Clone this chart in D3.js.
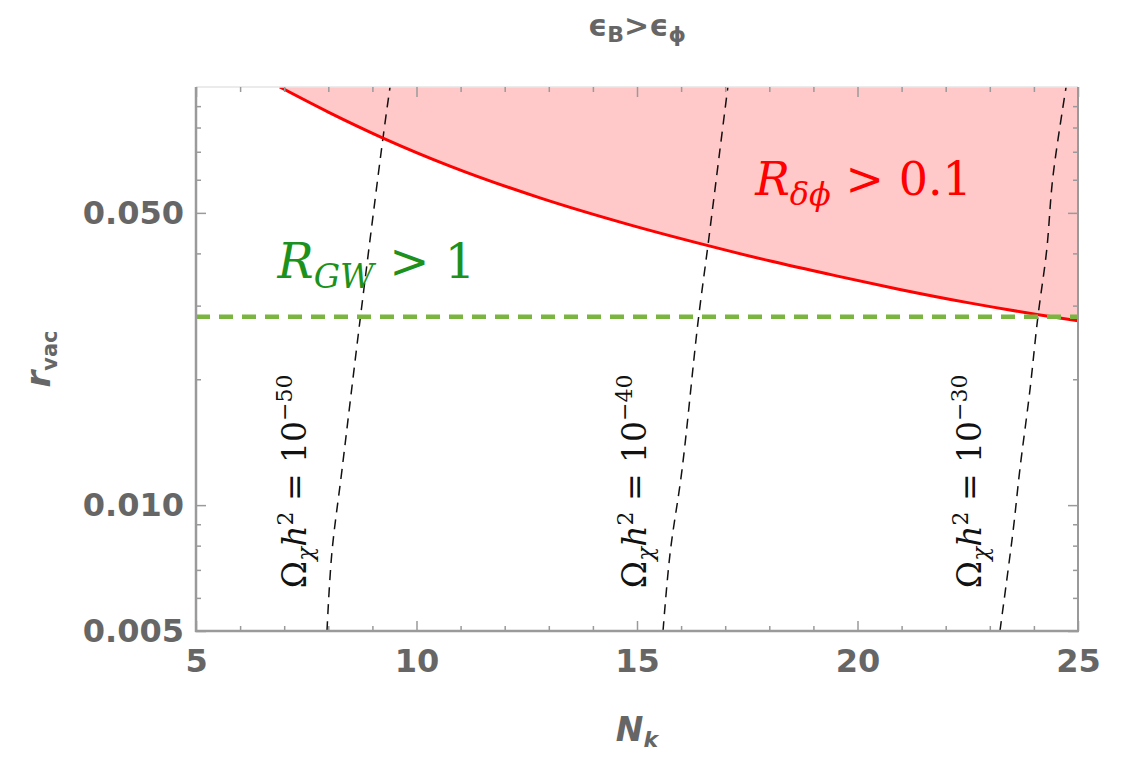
<!DOCTYPE html>
<html>
<head>
<meta charset="utf-8">
<script src="https://cdn.jsdelivr.net/npm/d3@7"></script>
<style>
  html, body { margin: 0; padding: 0; background: #fff; }
  svg { display: block; }
</style>
</head>
<body>
<svg id="chart" width="1129" height="758"></svg>
<script>
// ---------- data ----------
const xMajorTicks = [5, 10, 15, 20, 25];
const xMinorTicks = [6,7,8,9,11,12,13,14,16,17,18,19,21,22,23,24];
const yMajorTicks = [0.005, 0.01, 0.05];
const yMinorTicks = [0.006,0.007,0.008,0.009,0.02,0.03,0.04,0.06,0.07,0.08,0.09];

// R_dphi = 0.1 boundary (N_k, r_vac)
const redN = [6.9, 8.0, 9.24, 10.76, 12.8, 14.84, 16.59, 18.0, 19.6, 20.96, 22.5, 24.14, 25.0];
const redR = [0.100, 0.0871, 0.0755, 0.0647, 0.0543, 0.0468, 0.0418, 0.0384, 0.0352, 0.0328, 0.0305, 0.0285, 0.0276];

// R_GW = 1 level
const gwLevel = 0.0282;

// Omega_chi h^2 contours
const om50N = [7.97, 8.08, 8.31, 8.72, 9.24, 9.40];
const om50R = [0.005, 0.00767, 0.01213, 0.0277, 0.0755, 0.100];
const om40N = [15.59, 15.75, 16.02, 16.38, 16.61, 16.88, 17.06];
const om40R = [0.005, 0.00767, 0.01213, 0.0272, 0.0419, 0.0707, 0.100];
const om30N = [23.23, 23.53, 23.68, 23.91, 24.09, 24.29, 24.43, 24.73];
const om30R = [0.005, 0.00871, 0.01213, 0.01884, 0.0282, 0.0407, 0.0609, 0.100];
const omExponents = ["−50", "−40", "−30"];
const omLabelN = [7.5, 15.2, 22.8];
const omLabelR = 0.0114;

// ---------- layout ----------
const svg = d3.select("#chart");
const pL = 196, pR = 1078, pT = 87, pB = 631;
const x = d3.scaleLinear().domain([5, 25]).range([pL, pR]);
const y = d3.scaleLog().domain([0.005, 0.1]).range([pB, pT]);
const grey = "#666";
const frameGrey = "#9a9a9a";

svg.append("defs").append("clipPath").attr("id", "clip")
  .append("rect").attr("x", pL).attr("y", pT)
  .attr("width", pR - pL).attr("height", pB - pT);

const plot = svg.append("g").attr("clip-path", "url(#clip)");

// Shaded region R_dphi > 0.1
const redPts = redN.map((n, i) => [n, redR[i]]);
plot.append("path")
  .datum(redPts)
  .attr("fill", "#ffc9c9")
  .attr("d", d3.area()
    .x(d => x(d[0]))
    .y0(() => y(0.1))
    .y1(d => y(d[1]))
    .curve(d3.curveMonotoneX));

// Omega contours
const contourLine = d3.line().x(d => x(d[0])).y(d => y(d[1])).curve(d3.curveCatmullRom);
[[om50N, om50R], [om40N, om40R], [om30N, om30R]].forEach(([ns, rs]) => {
  plot.append("path")
    .datum(ns.map((n, i) => [n, rs[i]]))
    .attr("fill", "none")
    .attr("stroke", "#111")
    .attr("stroke-width", 1.5)
    .attr("stroke-dasharray", "10,7")
    .attr("d", contourLine);
});

// Red boundary
plot.append("path")
  .datum(redPts)
  .attr("fill", "none")
  .attr("stroke", "#ff0000")
  .attr("stroke-width", 3)
  .attr("d", d3.line().x(d => x(d[0])).y(d => y(d[1])).curve(d3.curveMonotoneX));

// Green dashed GW line
plot.append("path")
  .datum([[5, gwLevel], [25, gwLevel]])
  .attr("fill", "none")
  .attr("stroke", "#7ab540")
  .attr("stroke-width", 4.5)
  .attr("stroke-dasharray", "14,9")
  .attr("d", d3.line().x(d => x(d[0])).y(d => y(d[1])));

// ---------- frame ----------
svg.append("line").attr("x1", pL).attr("x2", pR).attr("y1", pT).attr("y2", pT)
  .attr("stroke", "#e4e4e4").attr("stroke-width", 1.5);
svg.append("line").attr("x1", pR).attr("x2", pR).attr("y1", pT).attr("y2", pB)
  .attr("stroke", frameGrey).attr("stroke-width", 2);
svg.append("line").attr("x1", pL).attr("x2", pL).attr("y1", pT).attr("y2", pB + 1)
  .attr("stroke", frameGrey).attr("stroke-width", 2.5);
svg.append("line").attr("x1", pL - 1).attr("x2", pR + 1).attr("y1", pB).attr("y2", pB)
  .attr("stroke", frameGrey).attr("stroke-width", 2.5);

// ---------- axes ----------
function styleAxis(g, showText) {
  g.select(".domain").remove();
  g.selectAll(".tick line").attr("stroke", frameGrey).attr("stroke-width", 1.5);
  g.selectAll(".tick text")
    .attr("fill", grey)
    .attr("font-family", "DejaVu Sans, sans-serif")
    .attr("font-weight", "bold")
    .attr("font-size", 32);
  if (!showText) g.selectAll(".tick text").remove();
}

// bottom
svg.append("g").attr("transform", `translate(0,${pB})`)
  .call(d3.axisBottom(x).tickValues(xMajorTicks).tickSize(-10).tickPadding(18).tickFormat(d3.format("d")))
  .call(g => styleAxis(g, true));
svg.append("g").attr("transform", `translate(0,${pB})`)
  .call(d3.axisBottom(x).tickValues(xMinorTicks).tickSize(-5))
  .call(g => styleAxis(g, false));
// top
svg.append("g").attr("transform", `translate(0,${pT})`)
  .call(d3.axisTop(x).tickValues(xMajorTicks).tickSize(-10))
  .call(g => styleAxis(g, false));
svg.append("g").attr("transform", `translate(0,${pT})`)
  .call(d3.axisTop(x).tickValues(xMinorTicks).tickSize(-5))
  .call(g => styleAxis(g, false));
// left
svg.append("g").attr("transform", `translate(${pL},0)`)
  .call(d3.axisLeft(y).tickValues(yMajorTicks).tickSize(-10).tickPadding(12).tickFormat(d3.format(".3f")))
  .call(g => styleAxis(g, true));
svg.append("g").attr("transform", `translate(${pL},0)`)
  .call(d3.axisLeft(y).tickValues(yMinorTicks).tickSize(-5))
  .call(g => styleAxis(g, false));
// right
svg.append("g").attr("transform", `translate(${pR},0)`)
  .call(d3.axisRight(y).tickValues(yMajorTicks).tickSize(-10))
  .call(g => styleAxis(g, false));
svg.append("g").attr("transform", `translate(${pR},0)`)
  .call(d3.axisRight(y).tickValues(yMinorTicks).tickSize(-5))
  .call(g => styleAxis(g, false));

// ---------- labels ----------
// Title
const title = svg.append("text")
  .attr("x", (pL + pR) / 2).attr("y", 36)
  .attr("text-anchor", "middle")
  .attr("fill", grey)
  .attr("font-family", "DejaVu Sans, sans-serif")
  .attr("font-weight", "bold")
  .attr("font-size", 30);
title.append("tspan").text("ϵ");
title.append("tspan").attr("font-size", 22).attr("dy", 6).text("B");
title.append("tspan").attr("dy", -6).text(">ϵ");
title.append("tspan").attr("font-size", 22).attr("dy", 6).text("ϕ");

// X label
const xl = svg.append("text")
  .attr("x", (pL + pR) / 2).attr("y", 741)
  .attr("text-anchor", "middle")
  .attr("fill", grey)
  .attr("font-family", "DejaVu Sans, sans-serif")
  .attr("font-weight", "bold")
  .attr("font-style", "italic")
  .attr("font-size", 33);
xl.append("tspan").text("N");
xl.append("tspan").attr("font-size", 22).attr("dy", 6).text("k");

// Y label
const yl = svg.append("text")
  .attr("transform", `translate(50,${(pT + pB) / 2}) rotate(-90)`)
  .attr("text-anchor", "middle")
  .attr("fill", grey)
  .attr("font-family", "DejaVu Sans, sans-serif")
  .attr("font-weight", "bold")
  .attr("font-size", 34);
yl.append("tspan").attr("font-style", "italic").text("r");
yl.append("tspan").attr("font-size", 21).attr("dy", 7).text("vac");

// R_dphi > 0.1
const rl = svg.append("text")
  .attr("x", x(17.68)).attr("y", y(0.0552))
  .attr("fill", "#ff0000")
  .attr("font-family", "DejaVu Serif, serif")
  .attr("font-size", 46);
rl.append("tspan").attr("font-style", "italic").text("R");
rl.append("tspan").attr("font-style", "italic").attr("font-size", 32).attr("dy", 10).text("δϕ");
rl.append("tspan").attr("dy", -10).text(" > 0.1");

// R_GW > 1
const gl = svg.append("text")
  .attr("x", x(6.85)).attr("y", y(0.0349))
  .attr("fill", "#1c921c")
  .attr("font-family", "DejaVu Serif, serif")
  .attr("font-size", 48);
gl.append("tspan").attr("font-style", "italic").text("R");
gl.append("tspan").attr("font-style", "italic").attr("font-size", 33).attr("dy", 10).text("GW");
gl.append("tspan").attr("dy", -10).text(" > 1");

// Omega labels
omLabelN.forEach((n, i) => {
  const t = svg.append("text")
    .attr("transform", `translate(${x(n)},${y(omLabelR)}) rotate(-90)`)
    .attr("text-anchor", "middle")
    .attr("fill", "#111")
    .attr("font-family", "DejaVu Serif, serif")
    .attr("font-size", 33);
  t.append("tspan").text("Ω");
  t.append("tspan").attr("font-style", "italic").attr("font-size", 23).attr("dy", 7).text("χ");
  t.append("tspan").attr("font-style", "italic").attr("dy", -7).text("h");
  t.append("tspan").attr("font-size", 22).attr("dy", -13).text("2");
  t.append("tspan").attr("dy", 13).text(" = 10");
  t.append("tspan").attr("font-size", 22).attr("dy", -14).text(omExponents[i]);
});
</script>
</body>
</html>
